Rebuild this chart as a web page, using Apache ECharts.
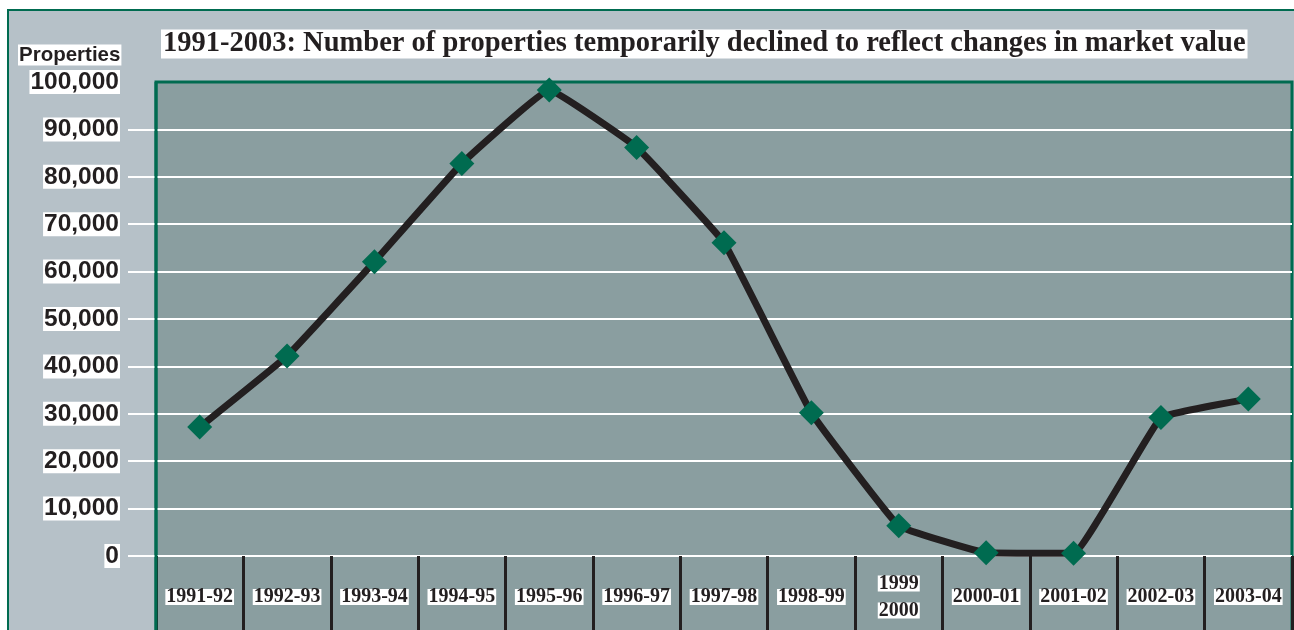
<!DOCTYPE html>
<html>
<head>
<meta charset="utf-8">
<script src="https://cdn.jsdelivr.net/npm/echarts@6/dist/echarts.min.js"></script>
<style>
  html, body { margin: 0; padding: 0; background: #fff; }
  #main { width: 1294px; height: 630px; }
</style>
</head>
<body>
<div id="main"></div>
<script>
// data
var categories = ['1991-92', '1992-93', '1993-94', '1994-95', '1995-96', '1996-97', '1997-98',
  '1998-99', '1999\n2000', '2000-01', '2001-02', '2002-03', '2003-04'];
var properties = [27200, 42200, 62100, 82800, 98300, 86200, 66100, 30200, 6400, 700, 600, 29200, 33100];
var yTicks = [0, 10000, 20000, 30000, 40000, 50000, 60000, 70000, 80000, 90000, 100000];

var green = '#006b50';
var ink = '#231f20';

var chart = echarts.init(document.getElementById('main'));

var option = {
  backgroundColor: '#fff',
  animation: false,
  title: [{
    text: '1991-2003: Number of properties temporarily declined to reflect changes in market value',
    left: 161,
    top: 31,
    padding: [0, 2],
    backgroundColor: '#fff',
    textStyle: {
      fontFamily: 'Liberation Serif',
      fontWeight: 'bold',
      fontSize: 28.5,
      lineHeight: 26,
      color: ink
    }
  }, {
    text: 'Properties',
    left: 18,
    top: 45,
    padding: [0, 1],
    backgroundColor: '#fff',
    textStyle: {
      fontFamily: 'Liberation Sans',
      fontWeight: 'bold',
      fontSize: 20.5,
      lineHeight: 20,
      color: ink
    }
  }],
  graphic: {
    elements: [
      // outer panel
      { type: 'rect', z: -20, silent: true, shape: { x: 8, y: 10, width: 1300, height: 640 },
        style: { fill: '#b6c1c8', stroke: green, lineWidth: 2 } },
      // plot panel
      { type: 'rect', z: -10, silent: true, shape: { x: 156, y: 82, width: 1136, height: 560 },
        style: { fill: '#8a9ea0', stroke: green, lineWidth: 3 } },
      // left green edge over the first tick
      { type: 'line', z: 100, silent: true, shape: { x1: 156, y1: 82, x2: 156, y2: 630 },
        style: { stroke: green, lineWidth: 3 } }
    ]
  },
  grid: {
    left: 156,
    right: 2,
    top: 82,
    bottom: 74
  },
  xAxis: {
    type: 'category',
    data: categories,
    boundaryGap: true,
    axisLine: { show: false },
    axisTick: {
      show: true,
      interval: 0,
      length: 74,
      lineStyle: { color: ink, width: 3 }
    },
    axisLabel: {
      interval: 0,
      margin: 41,
      verticalAlign: 'middle',
      formatter: function (v) {
        return v.split('\n').map(function (s) { return '{a|' + s + '}'; }).join('\n{s| }\n');
      },
      rich: {
        a: {
          backgroundColor: '#fff',
          fontFamily: 'Liberation Serif',
          fontWeight: 'bold',
          fontSize: 20,
          lineHeight: 16,
          height: 16,
          padding: [0, 1],
          color: ink
        },
        s: { fontSize: 1, height: 11, lineHeight: 11 }
      }
    }
  },
  yAxis: {
    type: 'value',
    min: 0,
    max: 100000,
    interval: 10000,
    axisLine: { show: false },
    axisTick: {
      show: true,
      length: 28,
      customValues: yTicks.slice(0, -1),
      lineStyle: { color: '#fff', width: 2 }
    },
    splitLine: { lineStyle: { color: '#fff', width: 2 } },
    axisLabel: {
      margin: 36,
      formatter: function (v) { return v.toLocaleString('en-US'); },
      backgroundColor: '#fff',
      padding: [1, 1, 0, 1],
      fontFamily: 'Liberation Sans',
      fontWeight: 'bold',
      fontSize: 24.5,
      lineHeight: 23,
      color: ink
    }
  },
  series: [{
    type: 'line',
    data: properties,
    smooth: 0.08,
    symbol: 'diamond',
    symbolSize: 25,
    lineStyle: { color: ink, width: 7 },
    itemStyle: { color: green }
  }]
};

chart.setOption(option);
</script>
</body>
</html>
